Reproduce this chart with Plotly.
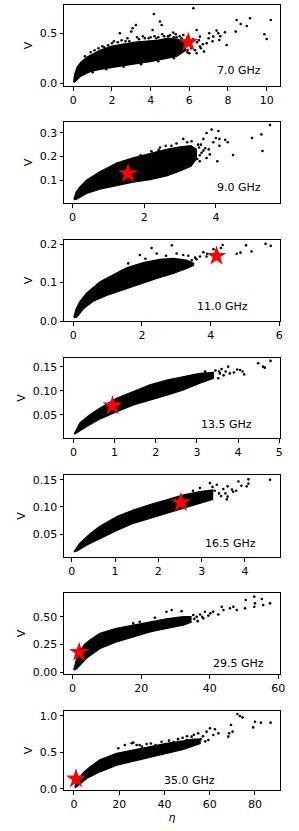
import plotly.graph_objects as go
from plotly.subplots import make_subplots

freq_labels = ["7.0 GHz", "9.0 GHz", "11.0 GHz", "13.5 GHz", "16.5 GHz", "29.5 GHz", "35.0 GHz"]

# ---- dense cloud envelopes (upper / lower edges) ----
up1_x = [0.02, 0.08, 0.2, 0.4, 0.7, 1.0, 1.4, 2.0, 2.6, 3.2, 3.8, 4.4, 4.9, 5.4, 5.8]
up1_y = [0.01, 0.09, 0.16, 0.21, 0.26, 0.29, 0.33, 0.37, 0.39, 0.41, 0.42, 0.43, 0.45, 0.44, 0.41]
lo1_x = [0.02, 0.1, 0.34, 0.86, 1.38, 2.24, 3.1, 3.97, 4.83, 5.34, 5.8]
lo1_y = [0.01, 0.02, 0.067, 0.117, 0.14, 0.167, 0.193, 0.217, 0.25, 0.27, 0.33]

up2_x = [0.04, 0.1, 0.2, 0.39, 0.76, 1.23, 1.69, 2.16, 2.62, 3.0, 3.3, 3.45]
up2_y = [0.02, 0.05, 0.071, 0.1, 0.136, 0.172, 0.194, 0.212, 0.23, 0.24, 0.245, 0.23]
lo2_x = [0.04, 0.11, 0.39, 0.76, 1.23, 1.69, 2.16, 2.62, 3.0, 3.3, 3.45]
lo2_y = [0.02, 0.022, 0.046, 0.064, 0.078, 0.093, 0.104, 0.119, 0.14, 0.16, 0.19]

up3_x = [0.02, 0.08, 0.19, 0.39, 0.78, 1.17, 1.55, 2.04, 2.52, 2.91, 3.3, 3.5]
up3_y = [0.009, 0.03, 0.05, 0.072, 0.102, 0.12, 0.138, 0.152, 0.16, 0.163, 0.158, 0.15]
lo3_x = [0.02, 0.1, 0.29, 0.58, 0.97, 1.46, 1.94, 2.43, 2.91, 3.3, 3.5]
lo3_y = [0.009, 0.01, 0.032, 0.052, 0.067, 0.082, 0.096, 0.111, 0.124, 0.137, 0.145]

up4_x = [0.02, 0.16, 0.4, 0.65, 1.05, 1.46, 1.86, 2.27, 2.67, 3.07, 3.4]
up4_y = [0.010, 0.033, 0.05, 0.064, 0.084, 0.098, 0.112, 0.122, 0.129, 0.136, 0.138]
lo4_x = [0.02, 0.08, 0.32, 0.65, 1.05, 1.46, 1.86, 2.27, 2.67, 3.07, 3.4]
lo4_y = [0.010, 0.014, 0.026, 0.042, 0.057, 0.071, 0.081, 0.091, 0.102, 0.116, 0.126]

up5_x = [0.05, 0.19, 0.42, 0.65, 1.04, 1.42, 1.81, 2.19, 2.58, 2.96, 3.25]
up5_y = [0.017, 0.033, 0.05, 0.064, 0.082, 0.094, 0.104, 0.113, 0.122, 0.128, 0.131]
lo5_x = [0.05, 0.12, 0.35, 0.65, 1.04, 1.42, 1.81, 2.19, 2.58, 2.96, 3.25]
lo5_y = [0.017, 0.019, 0.03, 0.042, 0.057, 0.07, 0.079, 0.088, 0.098, 0.107, 0.114]

up6_x = [0.4, 1.0, 2.1, 3.5, 5.1, 8, 12.8, 17.7, 22.6, 27.4, 32.3, 34.5]
up6_y = [0.02, 0.1, 0.186, 0.25, 0.29, 0.35, 0.395, 0.425, 0.455, 0.48, 0.5, 0.5]
lo6_x = [0.4, 1.2, 4.1, 8, 12.8, 17.7, 22.6, 27.4, 32.3, 34.5]
lo6_y = [0.02, 0.036, 0.13, 0.216, 0.275, 0.32, 0.365, 0.395, 0.425, 0.45]

up7_x = [0.4, 1.0, 2.7, 4.5, 7.1, 11.5, 18.9, 26.2, 33.6, 40.9, 48.3, 52.7, 55.7]
up7_y = [0.02, 0.08, 0.16, 0.23, 0.3, 0.395, 0.486, 0.53, 0.577, 0.62, 0.655, 0.68, 0.68]
lo7_x = [0.4, 1.2, 5.6, 11.5, 18.9, 26.2, 33.6, 40.9, 48.3, 55.7]
lo7_y = [0.02, 0.032, 0.145, 0.236, 0.327, 0.386, 0.44, 0.486, 0.54, 0.62]

# ---- sparse / outlying points ----
pt1_x = [4.17, 6.21, 8.45, 9.14, 8.66, 8.97, 8.4, 10.21, 9.88, 10.0, 7.84, 7.93, 7.41, 7.5, 7.24, 7.55, 6.9, 6.76,
         6.55, 6.38, 4.48, 4.57, 3.24, 3.07, 2.41, 3.0, 4.1, 5.17, 5.34, 5.69, 6.03, 5.91, 6.12, 6.38, 6.55, 7.03,
         5.6, 5.17, 1.5, 1.8, 2.1, 2.5, 2.8, 3.3, 3.6, 4.2, 4.6, 5.0, 5.2, 5.5, 5.9, 6.2, 6.4, 6.7, 7.0, 7.2, 5.8,
         6.1, 6.3, 6.0, 4.9, 5.3, 5.6, 4.4, 3.9, 2.7, 1.9, 6.6, 7.6,
         0.6, 0.9, 1.1, 1.3, 1.6, 2.0, 2.3, 2.9, 3.4, 3.7, 4.0, 4.3, 4.7, 5.1, 5.6, 6.5, 1.0, 1.7, 2.6, 3.5, 4.4,
         5.2, 5.9]
pt1_y = [0.693, 0.75, 0.633, 0.65, 0.593, 0.573, 0.517, 0.633, 0.49, 0.443, 0.51, 0.383, 0.527, 0.5, 0.467, 0.433,
         0.4, 0.317, 0.367, 0.3, 0.617, 0.583, 0.583, 0.55, 0.5, 0.517, 0.533, 0.507, 0.46, 0.483, 0.433, 0.333,
         0.367, 0.533, 0.467, 0.5, 0.4, 0.333, 0.37, 0.38, 0.42, 0.43, 0.45, 0.46, 0.47, 0.47, 0.49, 0.48, 0.46,
         0.47, 0.46, 0.44, 0.41, 0.39, 0.45, 0.42, 0.37, 0.35, 0.33, 0.30, 0.47, 0.49, 0.45, 0.46, 0.45, 0.42,
         0.36, 0.35, 0.47,
         0.27, 0.31, 0.33, 0.35, 0.36, 0.40, 0.41, 0.42, 0.44, 0.45, 0.46, 0.45, 0.47, 0.44, 0.43, 0.43, 0.11, 0.14,
         0.165, 0.19, 0.22, 0.25, 0.31]

pt2_x = [5.51, 5.01, 5.27, 5.3, 4.48, 4.04, 3.88, 3.74, 4.07, 4.0, 4.1, 4.26, 4.33, 3.93, 4.1, 3.65, 3.53, 3.74,
         3.55, 3.09, 2.76, 2.44, 3.32, 3.83, 3.6, 3.41, 3.2, 3.5, 3.7, 2.9, 3.0, 3.4, 3.8, 2.6, 3.3,
         3.55, 3.65, 3.48, 3.58, 3.2, 2.2, 1.9, 2.4]
pt2_y = [0.332, 0.278, 0.293, 0.223, 0.206, 0.18, 0.313, 0.299, 0.307, 0.278, 0.274, 0.27, 0.26, 0.26, 0.245,
         0.274, 0.238, 0.194, 0.18, 0.274, 0.245, 0.238, 0.264, 0.209, 0.216, 0.201, 0.26, 0.25, 0.235, 0.255,
         0.2, 0.215, 0.23, 0.245, 0.185,
         0.205, 0.225, 0.19, 0.25, 0.172, 0.222, 0.205, 0.228]

pt3_x = [5.6, 5.75, 5.03, 5.19, 4.76, 4.87, 4.35, 4.3, 4.08, 3.88, 3.69, 3.59, 3.79, 2.87, 2.28, 3.01, 3.2, 2.43,
         1.94, 3.16, 3.45, 3.55, 3.35, 2.7, 1.6, 2.1, 3.9, 4.2]
pt3_y = [0.201, 0.196, 0.197, 0.181, 0.175, 0.178, 0.198, 0.19, 0.187, 0.168, 0.168, 0.161, 0.179, 0.197, 0.19,
         0.176, 0.172, 0.176, 0.172, 0.15, 0.158, 0.165, 0.17, 0.17, 0.15, 0.162, 0.175, 0.178]

pt4_x = [4.79, 4.49, 4.61, 4.65, 3.76, 3.98, 4.05, 4.11, 4.15, 3.8, 3.56, 3.52, 3.54, 3.65, 3.45, 3.3, 3.6, 3.7,
         3.9, 3.2]
pt4_y = [0.162, 0.157, 0.15, 0.148, 0.15, 0.144, 0.143, 0.14, 0.134, 0.136, 0.136, 0.126, 0.14, 0.132, 0.142,
         0.128, 0.145, 0.14, 0.138, 0.14]

pt5_x = [4.58, 4.08, 4.08, 3.85, 3.92, 4.04, 3.19, 3.35, 3.6, 3.58, 3.23, 3.73, 2.96, 3.3, 3.4, 3.5, 3.1, 3.6,
         3.7, 3.45, 3.8, 3.0, 3.25, 3.55, 2.8]
pt5_y = [0.15, 0.151, 0.143, 0.147, 0.139, 0.138, 0.144, 0.141, 0.119, 0.114, 0.12, 0.128, 0.135, 0.13, 0.125,
         0.133, 0.125, 0.138, 0.132, 0.12, 0.13, 0.118, 0.137, 0.125, 0.13]

pt6_x = [50.5, 53, 55.2, 57.6, 53, 53.2, 55.6, 50.3, 46.9, 47.9, 45.9, 43.5, 44, 42.5, 41, 39.6, 38.6, 37.2, 36.2,
         35.2, 31.8, 28.9, 27.4, 24, 17.7, 19.6, 38.1, 36.5, 35.5, 37.8, 40.2]
pt6_y = [0.65, 0.68, 0.659, 0.62, 0.59, 0.62, 0.605, 0.575, 0.59, 0.56, 0.575, 0.59, 0.56, 0.52, 0.545, 0.51,
         0.545, 0.52, 0.5, 0.515, 0.55, 0.56, 0.545, 0.49, 0.44, 0.455, 0.485, 0.46, 0.48, 0.5, 0.53]

pt7_x = [82.6, 86.9, 79.2, 80, 72.2, 73.3, 74.5, 69.4, 70.1, 68.6, 68.2, 63.8, 62.3, 60.1, 58.6, 61.6, 59.4, 54.9,
         52, 49.8, 38.7, 26.2, 27.7, 22.5, 19.6, 25.5, 32.1, 43.9, 57, 56, 58,
         42, 44, 46, 48, 50, 53, 29, 30, 34, 36]
pt7_y = [0.905, 0.905, 0.84, 0.918, 1.023, 0.995, 0.977, 0.873, 0.782, 0.759, 0.714, 0.759, 0.814, 0.827, 0.782,
         0.736, 0.668, 0.759, 0.714, 0.668, 0.645, 0.632, 0.6, 0.6, 0.555, 0.623, 0.614, 0.623, 0.72, 0.68, 0.65,
         0.66, 0.64, 0.68, 0.7, 0.72, 0.74, 0.6, 0.58, 0.62, 0.6]

# ---- highlighted (star) points ----
star_x = [5.95, 1.55, 4.17, 0.95, 2.52, 1.9, 0.9]
star_y = [0.41, 0.129, 0.169, 0.069, 0.108, 0.18, 0.14]

# ---- axes ranges and ticks ----
x_ranges = [[-0.48, 10.69], [-0.24, 5.79], [-0.27, 6.02], [-0.23, 5.02], [-0.18, 4.81], [-2.5, 60.5], [-4.4, 91.05]]
y_ranges = [[-0.027, 0.783], [0.005, 0.345], [0.0, 0.211], [0.002, 0.168], [0.0075, 0.159], [-0.015, 0.713], [-0.014, 1.064]]
x_ticks = [[0, 2, 4, 6, 8, 10], [0, 2, 4], [0, 2, 4, 6], [0, 1, 2, 3, 4, 5], [0, 1, 2, 3, 4], [0, 20, 40, 60], [0, 20, 40, 60, 80]]
y_tickvals = [[0.0, 0.5], [0.1, 0.2, 0.3], [0.0, 0.1, 0.2], [0.05, 0.10, 0.15], [0.05, 0.10, 0.15], [0.0, 0.25, 0.5], [0.0, 0.5, 1.0]]
y_ticktext = [["0.0", "0.5"], ["0.1", "0.2", "0.3"], ["0.0", "0.1", "0.2"], ["0.05", "0.10", "0.15"],
              ["0.05", "0.10", "0.15"], ["0.00", "0.25", "0.50"], ["0.0", "0.5", "1.0"]]

bands = [(up1_x, up1_y, lo1_x, lo1_y), (up2_x, up2_y, lo2_x, lo2_y), (up3_x, up3_y, lo3_x, lo3_y),
         (up4_x, up4_y, lo4_x, lo4_y), (up5_x, up5_y, lo5_x, lo5_y), (up6_x, up6_y, lo6_x, lo6_y),
         (up7_x, up7_y, lo7_x, lo7_y)]
points = [(pt1_x, pt1_y), (pt2_x, pt2_y), (pt3_x, pt3_y), (pt4_x, pt4_y), (pt5_x, pt5_y), (pt6_x, pt6_y), (pt7_x, pt7_y)]

# ---- layout geometry (pixels) ----
W, H = 299, 831
ML, MR, MT, MB = 64, 19, 5, 41
panel_top = [5, 122, 240, 358, 475, 593, 711]
panel_bot = [86, 203, 321, 438, 557, 674, 790]
label_pos = [(215, 71), (215, 188), (195, 306.7), (199, 424), (202.7, 543), (210.7, 663.7), (162.3, 780.7)]

plot_h = H - MT - MB
fig = make_subplots(rows=7, cols=1)

font = dict(family="DejaVu Sans", size=11, color="black")

for i in range(7):
    r = i + 1
    ux, uy, lx, ly = bands[i]
    fig.add_trace(go.Scatter(x=ux + lx[::-1], y=uy + ly[::-1], mode="lines", fill="toself",
                             fillcolor="black", line=dict(color="black", width=1.5),
                             hoverinfo="skip", showlegend=False), row=r, col=1)
    px, py = points[i]
    fig.add_trace(go.Scatter(x=px, y=py, mode="markers",
                             marker=dict(color="black", size=2.6, line=dict(width=0)),
                             showlegend=False), row=r, col=1)
    fig.add_trace(go.Scatter(x=[star_x[i]], y=[star_y[i]], mode="markers",
                             marker=dict(symbol="star", color="red", size=15, line=dict(width=0)),
                             showlegend=False), row=r, col=1)
    d0 = (H - MB - panel_bot[i]) / plot_h
    d1 = (H - MB - panel_top[i]) / plot_h
    axis_common = dict(showgrid=False, zeroline=False, showline=True, linecolor="black", linewidth=1,
                       mirror=True, ticks="outside", ticklen=3.5, tickwidth=1, tickcolor="black",
                       tickfont=font, automargin=False)
    fig.update_xaxes(range=x_ranges[i], tickvals=x_ticks[i], ticktext=[str(v) for v in x_ticks[i]],
                     domain=[0, 1], row=r, col=1, **axis_common)
    fig.update_yaxes(range=y_ranges[i], tickvals=y_tickvals[i], ticktext=y_ticktext[i],
                     domain=[d0, d1], title=dict(text="V", font=font, standoff=4),
                     row=r, col=1, **axis_common)
    lx_px, ly_px = label_pos[i]
    fig.add_annotation(x=(lx_px - ML) / (W - ML - MR), y=(H - MB - ly_px) / plot_h,
                       xref="paper", yref="paper", xanchor="left", yanchor="middle",
                       text=freq_labels[i], showarrow=False, font=font)

fig.update_xaxes(title=dict(text="<i>η</i>", font=font, standoff=2), row=7, col=1)

fig.update_layout(width=W, height=H, margin=dict(l=ML, r=MR, t=MT, b=MB, autoexpand=False),
                  plot_bgcolor="white", paper_bgcolor="white", showlegend=False)

fig.write_html("out.html", config={"displayModeBar": False},
               post_script="document.body.style.margin='0';document.body.style.overflow='hidden';")
